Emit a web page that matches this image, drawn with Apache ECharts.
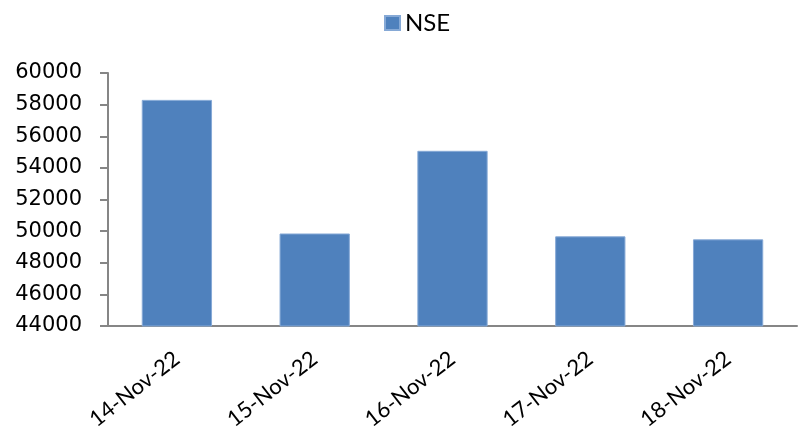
<!DOCTYPE html>
<html>
<head>
<meta charset="utf-8">
<script src="https://cdn.jsdelivr.net/npm/echarts@6/dist/echarts.min.js"></script>
<style>html,body{margin:0;padding:0;background:#fff}#c{width:803px;height:435px}</style>
</head>
<body>
<div id="c"></div>
<script>
const categories = ['14-Nov-22', '15-Nov-22', '16-Nov-22', '17-Nov-22', '18-Nov-22'];
const nseValues = [58300, 49850, 55080, 49670, 49480];
const yMin = 44000, yMax = 60000, yStep = 2000;

const chart = echarts.init(document.getElementById('c'), null, {renderer: 'canvas'});
chart.setOption({
  animation: false,
  backgroundColor: '#ffffff',
  legend: {
    left: 379, top: 6,
    icon: 'rect', itemWidth: 15, itemHeight: 14, itemGap: 5,
    textStyle: {fontFamily: 'Lato, "Open Sans", sans-serif', fontSize: 24, color: '#000'},
    data: ['NSE']
  },
  grid: {left: 108, right: 6, top: 73, bottom: 109, containLabel: false},
  xAxis: {
    type: 'category',
    data: categories,
    axisLine: {lineStyle: {color: '#868686', width: 2}},
    axisTick: {show: false},
    axisLabel: {
      rotate: 38, interval: 0, margin: 30,
      fontFamily: 'Lato, "Open Sans", sans-serif', fontSize: 22, color: '#000'
    }
  },
  yAxis: {
    type: 'value',
    min: yMin, max: yMax, interval: yStep,
    axisLine: {show: true, lineStyle: {color: '#868686', width: 2}},
    axisTick: {show: true, length: 8, lineStyle: {color: '#868686', width: 2}},
    splitLine: {show: false},
    axisLabel: {
      margin: 26, fontFamily: '"DejaVu Sans", sans-serif', fontSize: 21, color: '#000',
      formatter: v => String(v)
    }
  },
  series: [{
    name: 'NSE',
    type: 'bar',
    data: nseValues,
    barWidth: '51%',
    itemStyle: {color: '#4F81BD', borderColor: '#86a9d6', borderWidth: 1}
  }]
});
</script>
</body>
</html>
